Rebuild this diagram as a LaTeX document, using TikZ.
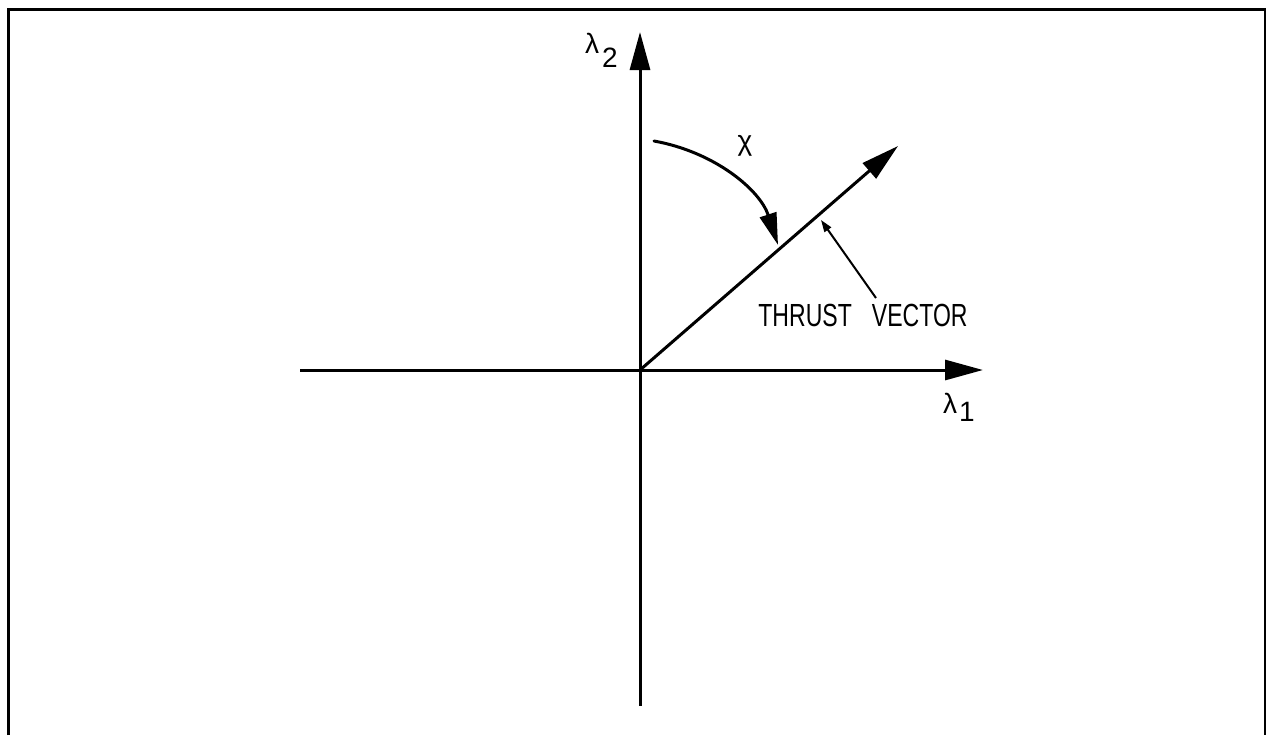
\documentclass[tikz,border=0pt]{standalone}
\usepackage{fontspec}
\usepackage{graphicx}
\setmainfont{Liberation Sans}
\usetikzlibrary{arrows.meta}
\begin{document}
\begin{tikzpicture}[x=0.5pt,y=-0.5pt,
  axis/.style={line width=1.5pt,-{Triangle[length=19pt,width=10pt]}},
  frame/.style={line width=1.5pt},
  lbl/.style={inner sep=0pt,font=\fontsize{14}{16}\selectfont},
  bigtext/.style={inner sep=0pt,font=\fontsize{16}{18}\selectfont}]
\useasboundingbox (0,0) rectangle (1266,735);
% frame
\draw[frame] (8,735) -- (8,9.5) -- (1266,9.5);
\draw[line width=1pt] (1264.5,9.5) -- (1264.5,735);
% named points
\coordinate (O) at (640,370);
\coordinate (ytop) at (640,32);
\coordinate (ybot) at (640,706);
\coordinate (xleft) at (300,370);
\coordinate (xright) at (983,370);
\coordinate (tv) at (898,146);
\coordinate (chis) at (654,141);
\coordinate (chie) at (778,245);
\coordinate (ls) at (876,298);
\coordinate (le) at (821,220);
% axes
\draw[line width=1.5pt] (O) -- (ybot);
\draw[axis] (O) -- (ytop);
\draw[line width=1.5pt] (O) -- (xleft);
\draw[axis] (O) -- (xright);
% thrust vector
\draw[line width=1.5pt,-{Triangle[length=19pt,width=10pt]}] (O) -- (tv);
% chi arc
\draw[line width=1.5pt,line cap=round,-{Triangle[length=16pt,width=8.5pt]}]
  (chis) .. controls (715,152) and (760,190) .. (chie);
% label arrow
\draw[line width=1pt,-{Triangle[length=6pt,width=4pt]}] (ls) -- (le);
% labels
\node[lbl] (l2a) at (592,43) {λ};
\node[lbl] (l2b) at (610,58) {2};
\node[lbl] (l1a) at (950,403) {λ};
\node[lbl] (l1b) at (967,412) {1};
\node[lbl] (chi) at (745,146) {χ};
\node[bigtext] (thrust) at (863,315) {\scalebox{0.72}[1]{THRUST\hspace{14pt}VECTOR}};
\end{tikzpicture}
\end{document}
